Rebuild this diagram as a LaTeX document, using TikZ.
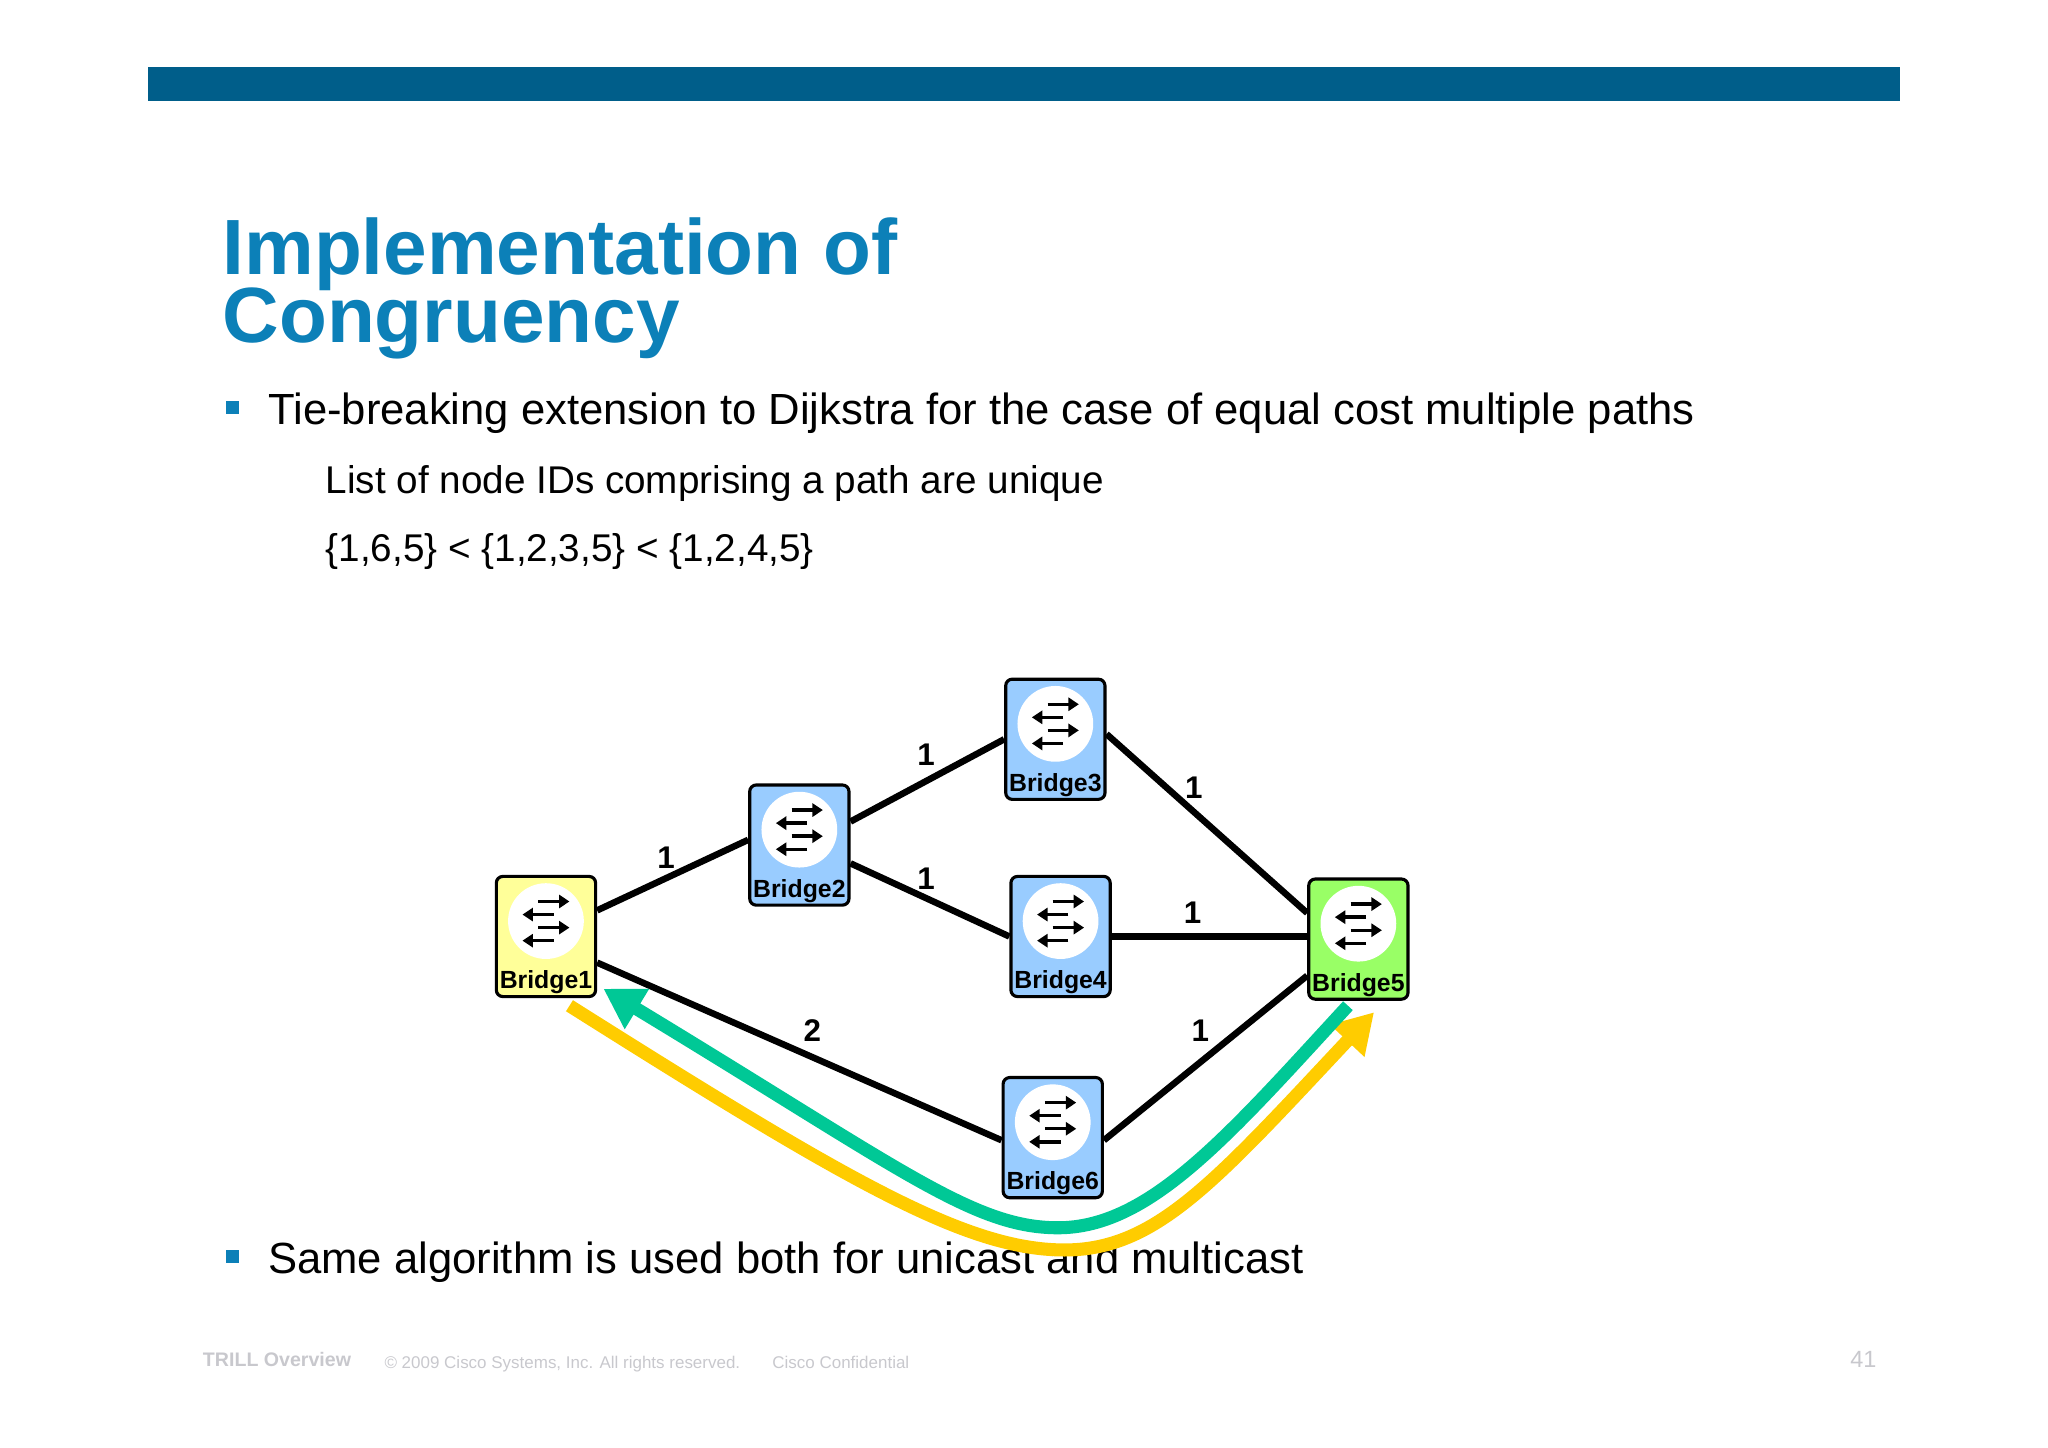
\documentclass[tikz,border=0pt]{standalone}
\usepackage{fontspec}
\setmainfont{Liberation Sans}
\usetikzlibrary{arrows.meta}
\definecolor{barblue}{RGB}{0,94,138}
\definecolor{titleblue}{RGB}{12,128,184}
\definecolor{boxblue}{RGB}{153,204,255}
\definecolor{boxyellow}{RGB}{255,255,153}
\definecolor{boxgreen}{RGB}{153,255,102}
\definecolor{pathteal}{RGB}{0,200,150}
\definecolor{pathyellow}{RGB}{255,204,0}
\definecolor{footgray}{RGB}{200,200,205}
\tikzset{
  bridge/.style={draw=black, line width=1.2pt, rounded corners=2.5pt, minimum width=38pt, minimum height=46pt, inner sep=0pt},
  bridgelabel/.style={font=\bfseries\fontsize{9.5}{9.5}\selectfont, anchor=south, inner sep=1.5pt},
  link/.style={line width=2.5pt},
  cost/.style={font=\bfseries\fontsize{12}{12}\selectfont, inner sep=0pt},
  fwd/.style={line width=1.3pt, -{Triangle[length=4pt,width=5pt]}},
  route/.style={line width=5pt, -{Triangle[length=15pt,width=17pt]}},
  heading/.style={anchor=base west, text=titleblue, font=\bfseries\fontsize{30}{30}\selectfont, inner sep=0pt}
}
\begin{document}
\begin{tikzpicture}[x=0.5pt,y=0.5pt,yscale=-1]
  \useasboundingbox (0,0) rectangle (1568,1108);
  % header bar and title
  \fill [barblue] (113,51) rectangle (1455,77);
  \node (title1) [heading] at (170,210) {Implementation of};
  \node (title2) [heading] at (170,262) {Congruency};
  % bullet text
  \fill [titleblue] (173,307) rectangle (183,317);
  \node (tie) [anchor=base west, inner sep=0pt, font=\fontsize{16.7}{16.7}\selectfont] at (205,325) {Tie-breaking extension to Dijkstra for the case of equal cost multiple paths};
  \node (ids) [anchor=base west, inner sep=0pt, font=\fontsize{14.8}{14.8}\selectfont] at (249,378) {List of node IDs comprising a path are unique};
  \node (order) [anchor=base west, inner sep=0pt, font=\fontsize{14.8}{14.8}\selectfont] at (249,430) {\{1,6,5\} < \{1,2,3,5\} < \{1,2,4,5\}};
  \fill [titleblue] (173,957) rectangle (183,967);
  \node (same) [anchor=base west, inner sep=0pt, font=\fontsize{16.7}{16.7}\selectfont] at (205,975) {Same algorithm is used both for unicast and multicast};
  % bridges
  \foreach \n/\x/\y/\c in {1/418/717/boxyellow, 2/612/647/boxblue, 3/808/566/boxblue, 4/812/717/boxblue, 5/1040/719/boxgreen, 6/806/871/boxblue}{
    \node (b\n) [bridge, fill=\c] at (\x,\y) {};
    \node (c\n) [circle, fill=white, minimum size=29pt, inner sep=0pt, below=3pt] at (b\n.north) {};
    \node (l\n) [bridgelabel] at (b\n.south) {Bridge\n};
    \draw [fwd] ([xshift=-3pt,yshift=-7.5pt]c\n.center) -- ([xshift=9pt,yshift=-7.5pt]c\n.center);
    \draw [fwd] ([xshift=3pt,yshift=-2.5pt]c\n.center) -- ([xshift=-9pt,yshift=-2.5pt]c\n.center);
    \draw [fwd] ([xshift=-3pt,yshift=2.5pt]c\n.center) -- ([xshift=9pt,yshift=2.5pt]c\n.center);
    \draw [fwd] ([xshift=3pt,yshift=7.5pt]c\n.center) -- ([xshift=-9pt,yshift=7.5pt]c\n.center);
  }
  % links
  \draw [link] ([yshift=-10pt]b1.east) -- ([yshift=-2pt]b2.west);
  \draw [link] ([yshift=-9pt]b2.east) -- (b3.west);
  \draw [link] ([yshift=7pt]b2.east) -- (b4.west);
  \draw [link] ([yshift=-2pt]b3.east) -- ([yshift=-10pt]b5.west);
  \draw [link] (b4.east) -- ([yshift=-1pt]b5.west);
  \draw [link] ([yshift=10pt]b1.east) -- ([yshift=1pt]b6.west);
  \draw [link] ([yshift=1pt]b6.east) -- ([yshift=14pt]b5.west);
  % costs
  \node (k12) [cost] at (510,657) {1};
  \node (k23) [cost] at (709,578) {1};
  \node (k35) [cost] at (914,603) {1};
  \node (k24) [cost] at (709,673) {1};
  \node (k45) [cost] at (913,699) {1};
  \node (k16) [cost] at (622,789) {2};
  \node (k65) [cost] at (919,789) {1};
  % congruent paths
  \coordinate (t0) at (1032,770);
  \coordinate (t1) at (462,757);
  \coordinate (y0) at (436,770);
  \coordinate (y1) at (1052,775);
  \draw [route, pathyellow] (y0) .. controls (650,905) and (740,957) .. (815,957) .. controls (885,957) and (930,905) .. (y1);
  \draw [route, pathteal] (t0) .. controls (940,870) and (880,940) .. (810,940) .. controls (745,940) and (690,895) .. (t1);
  % footer
  \node (f1) [anchor=base west, inner sep=0pt, text=footgray, font=\bfseries\fontsize{7.5}{7.5}\selectfont] at (155,1046) {TRILL Overview};
  \node (f2) [anchor=base west, inner sep=0pt, text=footgray, font=\fontsize{6.5}{6.5}\selectfont] at (294,1048) {\textcopyright\ 2009 Cisco Systems, Inc. All rights reserved.};
  \node (f3) [anchor=base west, inner sep=0pt, text=footgray, font=\fontsize{6.5}{6.5}\selectfont] at (591,1048) {Cisco Confidential};
  \node (f4) [anchor=base east, inner sep=0pt, text=footgray, font=\fontsize{9}{9}\selectfont] at (1437,1047) {41};
\end{tikzpicture}
\end{document}
